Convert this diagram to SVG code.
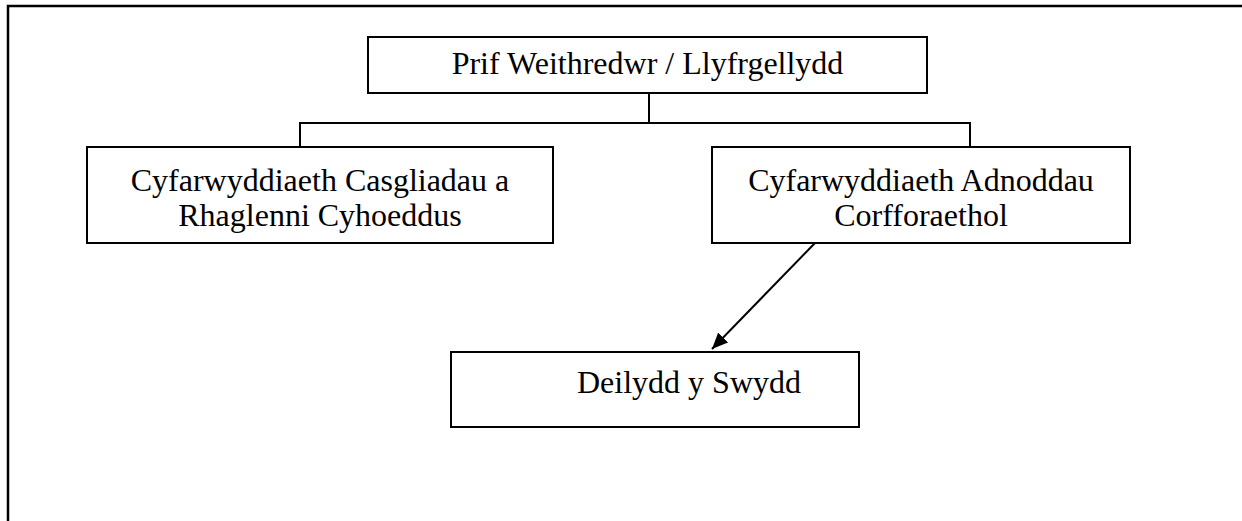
<svg xmlns="http://www.w3.org/2000/svg" width="1242" height="521" viewBox="0 0 1242 521">
<style>
.box{fill:#fff;stroke:#000;stroke-width:2}
.t{font-family:"Liberation Serif","Times New Roman",serif;font-size:32px;fill:#000;text-anchor:middle}
.c{fill:none;stroke:#000;stroke-width:2}
</style>
<defs>
<marker id="ah" markerWidth="16" markerHeight="14" refX="16" refY="7" orient="auto" markerUnits="userSpaceOnUse" viewBox="0 0 16 14">
<path d="M0,0 L16,7 L0,14 z" fill="#000"/>
</marker>
</defs>
<rect x="8" y="6" width="1300" height="600" fill="none" stroke="#000" stroke-width="2.5"/>
<g id="connectors">
<path class="c" d="M649,93 V123 M300,147 V123 H970 V147"/>
<line x1="815" y1="243" x2="712" y2="349" stroke="#000" stroke-width="2" marker-end="url(#ah)"/>
</g>
<g id="n1"><rect class="box" x="368" y="37" width="559" height="56"/><text class="t" x="647.5" y="74">Prif Weithredwr / Llyfrgellydd</text></g>
<g id="n2"><rect class="box" x="87" y="147" width="466" height="96"/><text class="t" x="320" y="191">Cyfarwyddiaeth Casgliadau a</text><text class="t" x="320" y="226">Rhaglenni Cyhoeddus</text></g>
<g id="n3"><rect class="box" x="712" y="147" width="418" height="96"/><text class="t" x="921" y="191">Cyfarwyddiaeth Adnoddau</text><text class="t" x="921" y="226">Corfforaethol</text></g>
<g id="n4"><rect class="box" x="451" y="352" width="408" height="75"/><text class="t" x="689" y="393">Deilydd y Swydd</text></g>
</svg>
